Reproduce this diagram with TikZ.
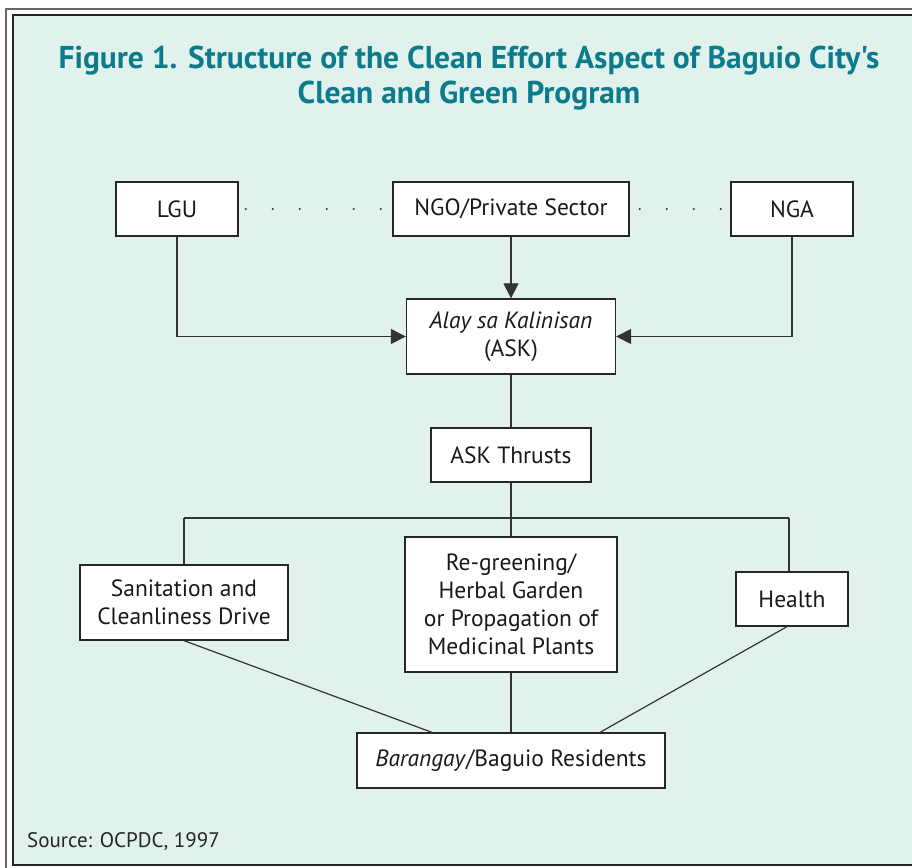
\documentclass[tikz,border=0pt]{standalone}
\usepackage{fontspec}
\setmainfont{PT Sans}
\newfontfamily\titlefont{PT Sans}
\usetikzlibrary{arrows.meta}
\definecolor{mint}{HTML}{E1F1EC}
\definecolor{teal}{HTML}{0C7B8B}
\definecolor{linec}{HTML}{333333}
\tikzset{
  box/.style={draw=black!85, line width=1.3pt, fill=white, align=center, inner sep=0pt,
    font=\fontsize{23.5}{28}\selectfont, text=black!90},
  conn/.style={draw=linec, line width=1.2pt},
  arr/.style={conn, -{Triangle[length=15pt,width=15pt]}},
  dots/.style={draw=linec, line width=2.2pt, line cap=round, dash pattern=on 0pt off 27pt},
}
\begin{document}
\begin{tikzpicture}[x=1pt,y=-1pt]
\useasboundingbox (0,0) rectangle (912,867);
\begin{scope}
\clip (0,0) rectangle (912,867);
\draw[gray!80!black, line width=1.5pt] (6,9) rectangle (930,880);
\draw[black!85, line width=1.5pt, fill=mint] (13,15) rectangle (925,865);
\end{scope}
\node[text=teal, font=\titlefont\bfseries\fontsize{31.5}{35}\selectfont, align=center] (title) at (469,78)
  {Figure 1. Structure of the Clean Effort Aspect of Baguio City's\\Clean and Green Program};
\node[box, minimum width=122pt, minimum height=54pt] (lgu) at (177,209) {LGU};
\node[box, minimum width=236pt, minimum height=54pt] (ngo) at (511,209) {NGO/Private Sector};
\node[box, minimum width=122pt, minimum height=54pt] (nga) at (792,209) {NGA};
\node[box, minimum width=209pt, minimum height=75pt] (ask) at (511,336.5) {\itshape Alay sa Kalinisan\\(ASK)};
\node[box, minimum width=160pt, minimum height=54pt] (thr) at (511,455) {ASK Thrusts};
\node[box, minimum width=208pt, minimum height=75pt] (san) at (184,602.5) {Sanitation and\\Cleanliness Drive};
\node[box, minimum width=212pt, minimum height=135pt] (reg) at (511,604.5) {Re-greening/\\Herbal Garden\\or Propagation of\\Medicinal Plants};
\node[box, minimum width=112pt, minimum height=54pt] (hea) at (792,599) {Health};
\node[box, minimum width=308pt, minimum height=55pt] (bar) at (511,760.5) {\textit{Barangay}/Baguio Residents};
\node[anchor=base west, font=\fontsize{21}{24}\selectfont, text=black!85, inner sep=0pt] (src) at (27,847) {Source: OCPDC, 1997};
\coordinate (b0) at (511,518);
\coordinate (bl) at (184,518);
\coordinate (br) at (789,518);
\draw[dots] ([xshift=7pt]lgu.east) -- (ngo.west);
\draw[dots] ([xshift=10pt]ngo.east) -- (nga.west);
\draw[arr] (lgu.south) |- (ask.west);
\draw[arr] (nga.south) |- (ask.east);
\draw[arr] (ngo.south) -- (ask.north);
\draw[conn] (ask.south) -- (thr.north);
\draw[conn] (thr.south) -- (b0);
\draw[conn] (bl) -- (br);
\draw[conn] (bl) -- (san.north);
\draw[conn] (b0) -- (reg.north);
\draw[conn] (br) -- (hea.north -| br);
\draw[conn] (san.south) -- ([xshift=-79pt]bar.north);
\draw[conn] (reg.south) -- (bar.north);
\draw[conn] ([xshift=-5pt]hea.south) -- ([xshift=89pt]bar.north);
\end{tikzpicture}
\end{document}
